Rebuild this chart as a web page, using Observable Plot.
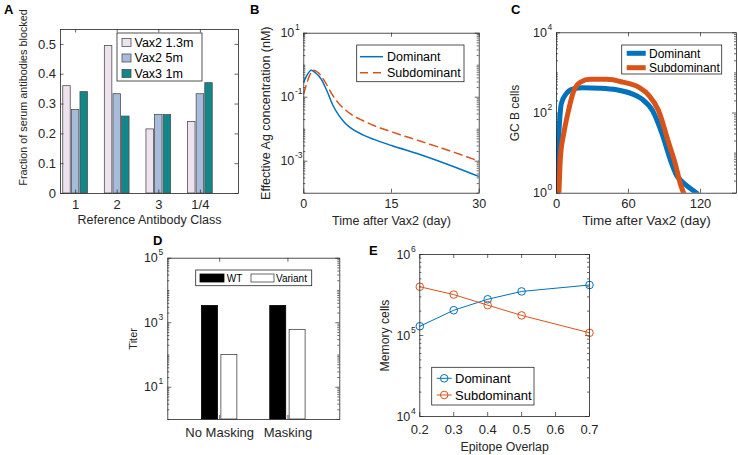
<!DOCTYPE html>
<html><head><meta charset="utf-8">
<script src="https://cdn.jsdelivr.net/npm/d3@7"></script>
<script src="https://cdn.jsdelivr.net/npm/@observablehq/plot@0.6"></script>
<style>
html,body{margin:0;padding:0;background:#fff;}
#root{position:relative;width:738px;height:455px;overflow:hidden;background:#fff;}
#root svg{position:absolute;left:0;top:0;overflow:visible;max-width:none;}
</style></head><body><div id="root"></div>
<script>
// ---------- DATA ----------
// Panel A
const classesA = ["1", "2", "3", "1/4"];
const seriesA = ["Vax2 1.3m", "Vax2 5m", "Vax3 1m"];
const vax2_13m = [0.36, 0.495, 0.215, 0.24];
const vax2_5m = [0.28, 0.333, 0.263, 0.333];
const vax3_1m = [0.34, 0.258, 0.263, 0.37];
const yTicksA = [0, 0.1, 0.2, 0.3, 0.4, 0.5];
const yTickLabelsA = ["0", "0.1", "0.2", "0.3", "0.4", "0.5"];
// Panel B
const tAgDom = [0, 0.5, 1.3, 2, 3, 4, 5, 6, 7, 8, 10, 12, 15, 20, 25, 30];
const agDom = [0.3, 0.47, 0.7, 0.58, 0.36, 0.15, 0.055, 0.027, 0.016, 0.011, 0.0068, 0.0048, 0.0031, 0.0016, 0.00075, 0.00033];
const tAgSub = [0, 0.5, 1, 1.7, 2.5, 3.5, 5, 6, 7, 8, 10, 12, 15, 20, 25, 30];
const agSub = [0.13, 0.27, 0.48, 0.7, 0.58, 0.33, 0.11, 0.063, 0.042, 0.03, 0.019, 0.013, 0.0083, 0.0042, 0.0021, 0.001];
const xTicksB = [0, 15, 30];
const yTicksB = [1e-3, 1e-1, 1e1];
// Panel C
const tGcDom = [0, 1, 2, 4, 8, 14, 22, 36, 50, 63, 71, 80, 88, 95, 100, 105, 111, 117];
const gcDom = [1, 8, 32, 170, 300, 400, 425, 415, 380, 300, 225, 115, 30, 6.6, 2.8, 1.9, 1.35, 1];
const tGcSub = [2, 3.3, 6, 10, 14, 20, 28, 42, 55, 69, 77, 85, 93, 99, 103.5, 106];
const gcSub = [1, 8, 30, 115, 330, 590, 690, 690, 590, 430, 275, 115, 20, 5.4, 1.6, 1];
const xTicksC = [0, 60, 120];
const yTicksC = [1e0, 1e2, 1e4];
// Panel D
const groupsD = ["No Masking", "Masking"];
const seriesD = ["WT", "Variant"];
const titerWT = [3300, 3300];
const titerVariant = [100, 600];
const yTicksD = [1e1, 1e3, 1e5];
// Panel E
const overlapE = [0.2, 0.3, 0.4, 0.5, 0.7];
const memDom = [1.3e5, 2.05e5, 2.8e5, 3.5e5, 4.2e5];
const memSub = [4.0e5, 3.2e5, 2.37e5, 1.77e5, 1.08e5];
const xTicksE = [0.2, 0.3, 0.4, 0.5, 0.6, 0.7];
const yTicksE = [1e4, 1e5, 1e6];
const seriesLines = ["Dominant", "Subdominant"];

// ---------- STYLE ----------
const W = 738, H = 455;
const FONT = '"Liberation Sans", Arial, Helvetica, sans-serif';
const AX = "#262626";
const BLUE = "#0072BD", RED = "#D95319";
const DASH = "8,5";
const colorsA = ["#EEE2EE", "#A7BCDC", "#12878A"];
const root = document.getElementById("root");
function add(svg) { root.appendChild(svg); }

function basePlot(frame, x, y, marks) {
  const [l, t, r, b] = frame;
  return Plot.plot({
    width: W, height: H,
    marginLeft: l, marginTop: t, marginRight: W - r, marginBottom: H - b,
    x: {...x, axis: null}, y: {...y, axis: null},
    style: {background: "none", fontFamily: FONT, color: AX, overflow: "visible"},
    marks
  });
}
function yTickMarks(vals, len, fw) {
  return [
    Plot.ruleY(vals, {y: d => d, insetRight: fw - len, stroke: AX, strokeWidth: 0.7}),
    Plot.ruleY(vals, {y: d => d, insetLeft: fw - len, stroke: AX, strokeWidth: 0.7})
  ];
}
function xTickMarks(vals, len, fh) {
  return [
    Plot.ruleX(vals, {x: d => d, insetTop: fh - len, stroke: AX, strokeWidth: 0.7}),
    Plot.ruleX(vals, {x: d => d, insetBottom: fh - len, stroke: AX, strokeWidth: 0.7})
  ];
}
function minorLog(lo, hi, majors) {
  const out = [];
  for (let e = lo; e < hi; e++) {
    for (let m = 1; m <= 9; m++) {
      const v = m * Math.pow(10, e);
      if (!majors.some(M => Math.abs(M - v) / v < 1e-9)) out.push(v);
    }
  }
  return out;
}
function logLabels(vals, fs, gap) {
  return [
    Plot.text(vals, {y: d => d, text: () => "10", frameAnchor: "left", textAnchor: "end", lineAnchor: "middle", dx: -gap, fontSize: fs, fill: AX}),
    Plot.text(vals, {y: d => d, text: d => String(Math.round(Math.log10(d))), frameAnchor: "left", textAnchor: "start", lineAnchor: "middle", dx: -gap + 0.6, dy: -5.5, fontSize: fs * 0.68, fill: AX})
  ];
}
function xLabels(vals, xs, texts, dy, fs) {
  return Plot.text(vals, {x: (d, i) => xs[i], text: (d, i) => texts[i], frameAnchor: "bottom", textAnchor: "middle", lineAnchor: "middle", dy, fontSize: fs, fill: AX});
}
function xTitle(t, dy, fs) {
  return Plot.text([t], {text: d => d, frameAnchor: "bottom", textAnchor: "middle", lineAnchor: "middle", dy, fontSize: fs, fill: AX});
}
function yTitle(t, dx, dy, fs) {
  return Plot.text([t], {text: d => d, frameAnchor: "left", textAnchor: "middle", lineAnchor: "middle", rotate: -90, dx, dy, fontSize: fs, fill: AX});
}
function frameMark() { return Plot.frame({stroke: AX, strokeWidth: 0.8}); }

// ---------- PANEL A ----------
{
  const fr = [60, 29, 238, 193];
  const fw = fr[2] - fr[0], fh = fr[3] - fr[1];
  const vals = [vax2_13m, vax2_5m, vax3_1m];
  const rows = [];
  classesA.forEach((c, ci) => seriesA.forEach((s, si) => rows.push({ci, si, v: vals[si][ci]})));
  const step = 0.207, bw = 0.18;
  add(basePlot(fr, {domain: [0.637, 4.916]}, {domain: [0, 0.55]}, [
    Plot.rectY(rows, {x1: d => d.ci + 1 + (d.si - 1) * step - bw / 2, x2: d => d.ci + 1 + (d.si - 1) * step + bw / 2,
      y1: 0, y2: "v", fill: d => colorsA[d.si], stroke: "#505050", strokeWidth: 0.8}),
    ...yTickMarks(yTicksA, 3.5, fw),
    ...xTickMarks([1, 2, 3, 4], 3.5, fh),
    Plot.text(yTicksA, {y: d => d, text: (d, i) => yTickLabelsA[i], frameAnchor: "left", textAnchor: "end", lineAnchor: "middle", dx: -4.5, fontSize: 13, fill: AX}),
    xLabels(classesA, [1, 2, 3, 4], classesA, 11, 13),
    xTitle("Reference Antibody Class", 26, 12.5),
    yTitle("Fraction of serum antibodies blocked", -37, -14, 10.8),
    frameMark()
  ]));
}

// ---------- PANEL B ----------
{
  const fr = [303.3, 32.7, 478.7, 192.7];
  const fw = fr[2] - fr[0], fh = fr[3] - fr[1];
  add(basePlot(fr, {domain: [0, 30]}, {type: "log", domain: [1e-4, 1e1]}, [
    ...yTickMarks(minorLog(-4, 1, yTicksB), 2, fw),
    ...yTickMarks(yTicksB, 4, fw),
    ...xTickMarks(xTicksB, 4, fh),
    Plot.line(tAgDom, {x: d => d, y: (d, i) => agDom[i], stroke: BLUE, strokeWidth: 1.5, curve: "monotone-x", clip: true}),
    Plot.line(tAgSub, {x: d => d, y: (d, i) => agSub[i], stroke: RED, strokeWidth: 1.5, strokeDasharray: DASH, curve: "monotone-x", clip: true}),
    ...logLabels(yTicksB, 12.5, 9.5),
    xLabels(xTicksB, xTicksB, xTicksB.map(String), 10.5, 12.5),
    xTitle("Time after Vax2 (day)", 27.5, 12.5),
    yTitle("Effective Ag concentration (nM)", -38, 0, 12.5),
    frameMark()
  ]));
}

// ---------- PANEL C ----------
{
  const fr = [556, 32.3, 736, 192.7];
  const fw = fr[2] - fr[0], fh = fr[3] - fr[1];
  add(basePlot(fr, {domain: [0, 150]}, {type: "log", domain: [1, 1e4]}, [
    ...yTickMarks(minorLog(0, 4, yTicksC), 2, fw),
    ...yTickMarks(yTicksC, 4, fw),
    ...xTickMarks(xTicksC, 4, fh),
    Plot.line(tGcDom, {x: d => d, y: (d, i) => gcDom[i], stroke: BLUE, strokeWidth: 5, curve: "monotone-x", clip: true, strokeLinejoin: "round"}),
    Plot.line(tGcSub, {x: d => d, y: (d, i) => gcSub[i], stroke: RED, strokeWidth: 5, curve: "monotone-x", clip: true, strokeLinejoin: "round"}),
    ...logLabels(yTicksC, 12.5, 9.5),
    xLabels(xTicksC, xTicksC, xTicksC.map(String), 10.5, 13),
    xTitle("Time after Vax2 (day)", 27.5, 13.5),
    yTitle("GC B cells", -41, 0, 12),
    frameMark()
  ]));
}

// ---------- PANEL D ----------
{
  const fr = [167.3, 257.7, 339.3, 419];
  const fw = fr[2] - fr[0], fh = fr[3] - fr[1];
  const vals = [titerWT, titerVariant];
  const rows = [];
  groupsD.forEach((g, gi) => seriesD.forEach((s, si) => rows.push({gi, si, v: vals[si][gi]})));
  const off = 0.142, bw = 0.234;
  add(basePlot(fr, {domain: [0.24, 2.76]}, {type: "log", domain: [1, 1e5]}, [
    Plot.rectY(rows, {x1: d => d.gi + 1 + (d.si ? off : -off) - bw / 2, x2: d => d.gi + 1 + (d.si ? off : -off) + bw / 2,
      y1: 1, y2: "v", fill: d => d.si ? "#ffffff" : "#000000", stroke: d => d.si ? "#444" : "#000", strokeWidth: 0.8}),
    ...yTickMarks(minorLog(0, 5, yTicksD), 2, fw),
    ...yTickMarks(yTicksD, 4, fw),
    ...xTickMarks([1, 2], 4, fh),
    ...logLabels(yTicksD, 12.5, 10),
    xLabels(groupsD, [1, 2], groupsD, 13, 13),
    yTitle("Titer", -34, 0, 11),
    frameMark()
  ]));
}

// ---------- PANEL E ----------
{
  const fr = [419.3, 254, 589, 416];
  const fw = fr[2] - fr[0], fh = fr[3] - fr[1];
  add(basePlot(fr, {domain: [0.2, 0.7]}, {type: "log", domain: [1e4, 1e6]}, [
    ...yTickMarks(minorLog(4, 6, yTicksE), 2, fw),
    ...yTickMarks(yTicksE, 4, fw),
    ...xTickMarks(xTicksE, 4, fh),
    Plot.line(overlapE, {x: d => d, y: (d, i) => memDom[i], stroke: BLUE, strokeWidth: 1}),
    Plot.line(overlapE, {x: d => d, y: (d, i) => memSub[i], stroke: RED, strokeWidth: 1}),
    Plot.dot(overlapE, {x: d => d, y: (d, i) => memDom[i], r: 3.8, stroke: BLUE, strokeWidth: 1, fill: "none"}),
    Plot.dot(overlapE, {x: d => d, y: (d, i) => memSub[i], r: 3.8, stroke: RED, strokeWidth: 1, fill: "none"}),
    ...logLabels(yTicksE, 12.5, 9.5),
    xLabels(xTicksE, xTicksE, xTicksE.map(d => d.toFixed(1)), 13, 13),
    xTitle("Epitope Overlap", 31, 12.3),
    yTitle("Memory cells", -35, 0, 12.2),
    frameMark()
  ]));
}

// ---------- OVERLAY: panel letters and legends ----------
const ov = d3.create("svg").attr("width", W).attr("height", H).style("font-family", FONT);
[["A", 4, 14], ["B", 250, 14], ["C", 511, 14], ["D", 153, 245], ["E", 369, 255]].forEach(([t, x, y]) =>
  ov.append("text").attr("x", x).attr("y", y).attr("font-size", 13).attr("font-weight", "bold").attr("fill", "#000").text(t));

function box(x0, y0, x1, y1) {
  ov.append("rect").attr("x", x0).attr("y", y0).attr("width", x1 - x0).attr("height", y1 - y0)
    .attr("fill", "#fff").attr("stroke", AX).attr("stroke-width", 0.8);
}
function label(x, y, t, fs) {
  ov.append("text").attr("x", x).attr("y", y).attr("dy", "0.35em").attr("font-size", fs).attr("fill", "#000").text(t);
}
// A legend
box(117, 33, 202, 81);
seriesA.forEach((s, i) => {
  const y = 42.5 + i * 15.5;
  ov.append("rect").attr("x", 122).attr("y", y - 4).attr("width", 9).attr("height", 8).attr("fill", colorsA[i]).attr("stroke", "#505050").attr("stroke-width", 0.8);
  label(134.5, y, s, 12.5);
});
// B legend
box(356.7, 45, 464, 81.7);
seriesLines.forEach((s, i) => {
  const y = 56.7 + i * 16;
  ov.append("line").attr("x1", 360).attr("x2", 383).attr("y1", y).attr("y2", y).attr("stroke", i ? RED : BLUE).attr("stroke-width", 1.5).attr("stroke-dasharray", i ? DASH : null);
  label(387, y, s, 12.5);
});
// C legend
box(621.7, 45, 721.7, 74);
seriesLines.forEach((s, i) => {
  const y = 53.3 + i * 14.4;
  ov.append("line").attr("x1", 626.7).attr("x2", 645.7).attr("y1", y).attr("y2", y).attr("stroke", i ? RED : BLUE).attr("stroke-width", 5);
  label(649, y, s, 12);
});
// D legend
box(195.7, 270, 311.7, 285.7);
[[200, 224, "#000", "#000", 226.7], [251, 274, "#fff", "#444", 276]].forEach(([a, b, f, st, tx], i) => {
  ov.append("rect").attr("x", a).attr("y", 274).attr("width", b - a).attr("height", 8).attr("fill", f).attr("stroke", st).attr("stroke-width", 0.8);
  label(tx, 278, seriesD[i], 10);
});
// E legend
box(431.7, 367.3, 534, 405);
seriesLines.forEach((s, i) => {
  const y = 378.3 + i * 16.7;
  const c = i ? RED : BLUE;
  ov.append("line").attr("x1", 436.7).attr("x2", 451.7).attr("y1", y).attr("y2", y).attr("stroke", c).attr("stroke-width", 1);
  ov.append("circle").attr("cx", 444.2).attr("cy", y).attr("r", 3.8).attr("fill", "none").attr("stroke", c).attr("stroke-width", 1);
  label(455, y, s, 13);
});
root.appendChild(ov.node());
</script></body></html>
